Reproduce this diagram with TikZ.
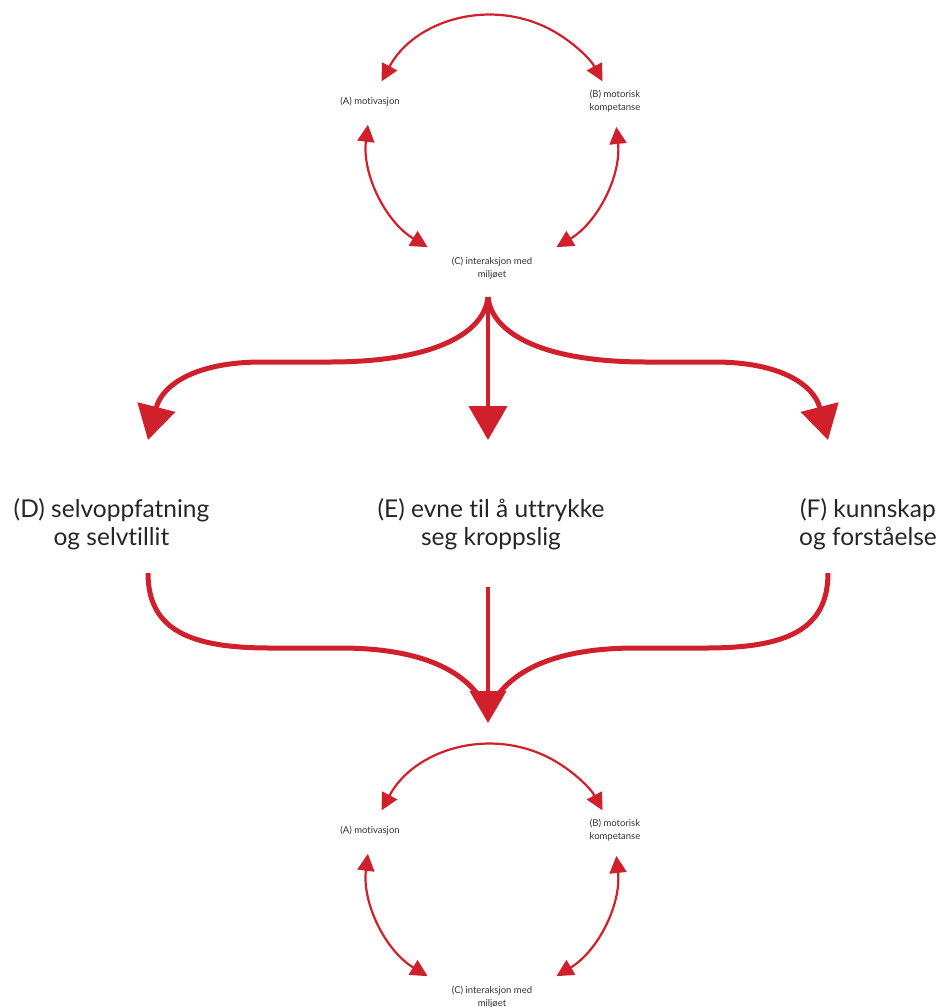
\documentclass[tikz,border=0pt]{standalone}
\usepackage{fontspec}
\setmainfont{Lato}[Ligatures={NoCommon}]
\usetikzlibrary{arrows.meta}
\definecolor{fred}{RGB}{208,32,44}
\begin{document}
\begin{tikzpicture}[x=1pt,y=1pt,
  small/.style={font=\fontsize{9.5}{13}\selectfont, align=center, text=black!80},
  big/.style={font=\fontsize{24.5}{28}\selectfont, align=center, text=black!85},
  cyc/.style={draw=fred, line width=2.2pt, {Triangle[length=17pt,width=17pt]}-{Triangle[length=17pt,width=17pt]}},
  fork/.style={draw=fred, line width=5pt, -{Triangle[length=34pt,width=38pt]}},
  merge/.style={draw=fred, line width=5pt},
]
\useasboundingbox (0,0) rectangle (943,-1007);

% ---------- top cycle ----------
\coordinate (ct) at (492,-140);
\node[small] (A1) at (370,-102) {(A) motivasjon};
\node[small] (B1) at (615,-101.5) {(B) motorisk\\kompetanse};
\node[small] (C1) at (492,-268.5) {(C) interaksjon med\\miljøet};
\coordinate (t1a) at ([shift={(152:125)}]ct);
\coordinate (t1b) at ([shift={(173:125)}]ct);
\coordinate (t1c) at ([shift={(6:125)}]ct);
\draw[cyc] (t1a) arc[start angle=152, end angle=28, radius=125pt];
\draw[cyc] (t1b) arc[start angle=173, end angle=239, radius=125pt];
\draw[cyc] (t1c) arc[start angle=6, end angle=-59, radius=125pt];

% ---------- fork ----------
\coordinate (fk) at (488,-297);
\coordinate (dT) at (148,-440);
\coordinate (eT) at (488,-440);
\coordinate (fT) at (828,-440);
\draw[fork] (fk) .. controls (484,-335) and (430,-362) .. (330,-362)
  -- (262,-362) .. controls (195,-362) and (162,-385) .. (dT);
\draw[fork] (fk) .. controls (492,-335) and (546,-362) .. (646,-362)
  -- (714,-362) .. controls (781,-362) and (814,-385) .. (fT);
\draw[fork, line width=4.5pt] (fk) -- (eT);

% ---------- middle texts ----------
\node[big] (D) at (111.5,-524) {(D) selvoppfatning\\og selvtillit};
\node[big] (E) at (491,-524) {(E) evne til å uttrykke\\seg kroppslig};
\node[big] (F) at (868,-524) {(F) kunnskap\\og forståelse};

% ---------- merge ----------
\coordinate (dS) at (148,-573);
\coordinate (fS) at (828,-573);
\coordinate (eS) at (488,-587);
\coordinate (mg) at (488,-712);
\coordinate (mT) at (488,-723);
\draw[merge] (dS) .. controls (148,-630) and (190,-648) .. (270,-648)
  -- (340,-648) .. controls (420,-648) and (470,-670) .. (mg);
\draw[merge] (fS) .. controls (828,-630) and (786,-648) .. (706,-648)
  -- (636,-648) .. controls (556,-648) and (506,-670) .. (mg);
\draw[fork, line width=4.5pt, -{Triangle[length=32pt,width=36pt]}] (eS) -- (mT);

% ---------- bottom cycle ----------
\coordinate (cb) at (492,-869);
\node[small] (A2) at (370,-831) {(A) motivasjon};
\node[small] (B2) at (615,-830.5) {(B) motorisk\\kompetanse};
\node[small] (C2) at (492,-997.5) {(C) interaksjon med\\miljøet};
\coordinate (t2a) at ([shift={(152:125)}]cb);
\coordinate (t2b) at ([shift={(173:125)}]cb);
\coordinate (t2c) at ([shift={(6:125)}]cb);
\draw[cyc] (t2a) arc[start angle=152, end angle=28, radius=125pt];
\draw[cyc] (t2b) arc[start angle=173, end angle=239, radius=125pt];
\draw[cyc] (t2c) arc[start angle=6, end angle=-59, radius=125pt];
\end{tikzpicture}
\end{document}
